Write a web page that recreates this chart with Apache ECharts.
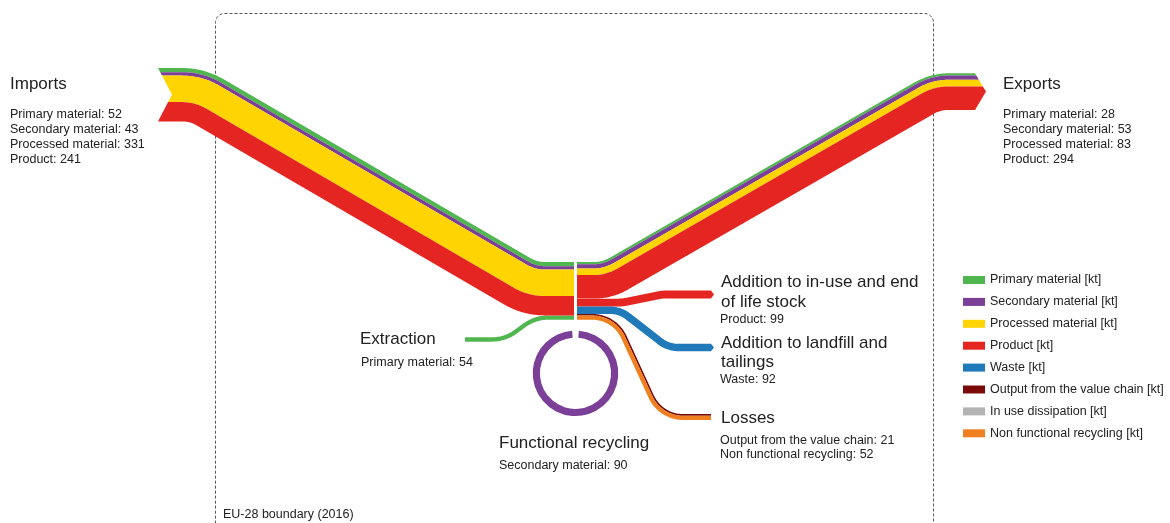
<!DOCTYPE html>
<html><head><meta charset="utf-8">
<script src="https://cdn.jsdelivr.net/npm/echarts@6/dist/echarts.min.js"></script>
<style>html,body{margin:0;padding:0;background:#fff}#c{width:1170px;height:523px}</style>
</head><body><div id="c"></div>
<script>
// ---------------- DATA ----------------
const materialNames = ['Primary material [kt]','Secondary material [kt]','Processed material [kt]','Product [kt]','Waste [kt]','Output from the value chain [kt]','In use dissipation [kt]','Non functional recycling [kt]'];
const materialColors = ['#50b64f','#7b3f98','#ffd400','#e52521','#2079b9','#7a0a0a','#b3b3b3','#f07f1f'];
const importCategories = ['Primary material','Secondary material','Processed material','Product'];
const importValues = [52, 43, 331, 241];
const exportCategories = ['Primary material','Secondary material','Processed material','Product'];
const exportValues = [28, 53, 83, 294];
const extractionCategory = 'Primary material';
const extractionValue = 54;
const recyclingCategory = 'Secondary material';
const recyclingValue = 90;
const stockCategory = 'Product';
const stockValue = 99;
const landfillCategory = 'Waste';
const landfillValue = 92;
const lossCategories = ['Output from the value chain','Non functional recycling'];
const lossValues = [21, 52];

// ---------------- LAYOUT (geometry only) ----------------
const PX_PER_KT = 0.08;
const FONT = '"Liberation Sans", Arial, sans-serif';
const ROUTES = {
  imports:    {pts: [[158,94.7],[197,94.7],[530,288.7],[574,288.7]], r: 55, startCap: 14, endCap: 0},
  exports:    {pts: [[577,280.3],[607.3,280.3],[935.5,91.6],[975,91.6]], r: 50, startCap: 0, endCap: 11},
  extraction: {pts: [[465,339.5],[505,339.5],[535,317.6],[574,317.6]], r: 40, startCap: 0, endCap: 0},
  stock:      {pts: [[577,302.6],[622,302.6],[662,294.5],[711,294.5]], r: 40, startCap: 0, endCap: 3},
  landfill:   {pts: [[577,310.2],[620,310.2],[668,347.5],[711,347.5]], r: 30, startCap: 0, endCap: 3},
  losses:     {pts: [[577,316.8],[614.6,316.8],[660.6,417],[711,417]], r: 35, startCap: 0, endCap: 0}
};
const RING = {cx: 575.5, cy: 373.3, r: 42.8, gapDeg: 4.5};

// ---------------- build bands from data ----------------
const ROUTE_LAYERS = {
  imports: importValues.map((v,i)=>({m:i, v})),
  exports: exportValues.map((v,i)=>({m:i, v})),
  extraction: [{m:0, v:extractionValue}],
  stock: [{m:3, v:stockValue}],
  landfill: [{m:4, v:landfillValue}],
  losses: [{m:5, v:lossValues[0]},{m:7, v:lossValues[1]}]
};
const BANDS = [];
Object.keys(ROUTE_LAYERS).forEach(rk => {
  const layers = ROUTE_LAYERS[rk];
  const total = layers.reduce((s,l)=>s+l.v,0);
  let before = 0;
  layers.forEach(l => { BANDS.push({route: rk, m: l.m, v: l.v, before, total}); before += l.v; });
});
BANDS.push({ring: true, m: 1, v: recyclingValue});

// ---------------- geometry helpers ----------------
function dir(p,q){const dx=q[0]-p[0],dy=q[1]-p[1],l=Math.hypot(dx,dy);return [dx/l,dy/l];}
function sampleRoute(pts, r){
  const out=[{p:pts[0],t:dir(pts[0],pts[1])}];
  for(let i=1;i<pts.length-1;i++){
    const d1=dir(pts[i-1],pts[i]), d2=dir(pts[i],pts[i+1]);
    const cross=d1[0]*d2[1]-d1[1]*d2[0];
    const ang=Math.acos(Math.max(-1,Math.min(1,d1[0]*d2[0]+d1[1]*d2[1])));
    if(ang<1e-4){out.push({p:pts[i],t:d1});continue;}
    const tl=r*Math.tan(ang/2);
    const p1=[pts[i][0]-d1[0]*tl,pts[i][1]-d1[1]*tl];
    const s=cross>0?1:-1;
    const nR=[-d1[1],d1[0]];
    const c=[p1[0]+nR[0]*r*s,p1[1]+nR[1]*r*s];
    const a1=Math.atan2(p1[1]-c[1],p1[0]-c[0]);
    const N=28;
    for(let k=0;k<=N;k++){
      const a=a1+s*ang*k/N;
      out.push({p:[c[0]+r*Math.cos(a),c[1]+r*Math.sin(a)], t: s>0?[-Math.sin(a),Math.cos(a)]:[Math.sin(a),-Math.cos(a)]});
    }
  }
  out.push({p:pts[pts.length-1],t:dir(pts[pts.length-2],pts[pts.length-1])});
  return out;
}
function bandPolygon(samples,a,b,W,startCap,endCap){
  const half=W/2;
  const cap=(depth,d)=>depth*(1-Math.abs(d)/half);
  const off=(s,d,sh)=>[s.p[0]-s.t[1]*d+s.t[0]*sh, s.p[1]+s.t[0]*d+s.t[1]*sh];
  const n=samples.length, pts=[];
  for(let i=0;i<n;i++){const sh=i===0?cap(startCap,a):(i===n-1?cap(endCap,a):0);pts.push(off(samples[i],a,sh));}
  if(a<0&&b>0&&endCap)pts.push(off(samples[n-1],0,endCap));
  for(let i=n-1;i>=0;i--){const sh=i===0?cap(startCap,b):(i===n-1?cap(endCap,b):0);pts.push(off(samples[i],b,sh));}
  if(a<0&&b>0&&startCap)pts.push(off(samples[0],0,startCap));
  return pts;
}

function renderItem(params, api){
  const band = BANDS[api.value(0)];
  const val = api.value(1);
  const color = materialColors[band.m];
  const kt2px = v => api.size([0, v*PX_PER_KT])[1];
  if(band.ring){
    const c = api.coord([RING.cx, RING.cy]);
    const r = api.size([0, RING.r])[1];
    const g = RING.gapDeg*Math.PI/180;
    return {type:'sector', shape:{cx:c[0], cy:c[1], r:r, r0:r-kt2px(val), startAngle:-Math.PI/2+g, endAngle:3*Math.PI/2-g, clockwise:true}, style:{fill:color}};
  }
  const route = ROUTES[band.route];
  const pts = route.pts.map(p=>api.coord(p));
  const samples = sampleRoute(pts, route.r);
  const W = kt2px(band.total);
  const a = kt2px(band.before) - W/2;
  const b = a + kt2px(val);
  return {type:'polygon', shape:{points: bandPolygon(samples,a,b,W,route.startCap,route.endCap)}, style:{fill:color}};
}

// ---------------- texts ----------------
const texts = [];
function T(x,y,text,size){texts.push({type:'text', x, y, silent:true, style:{text, font: size+'px '+FONT, fill:'#222', align:'left', verticalAlign:'middle'}});}
T(10,84,'Imports',17);
importCategories.forEach((c,i)=>T(10,115+i*14.7,c+': '+importValues[i],12.5));
T(1003,84,'Exports',17);
exportCategories.forEach((c,i)=>T(1003,115+i*14.7,c+': '+exportValues[i],12.5));
T(360,339,'Extraction',17);
T(361,363,extractionCategory+': '+extractionValue,12.5);
T(499,443,'Functional recycling',17);
T(499,466,recyclingCategory+': '+recyclingValue,12.5);
T(721,282,'Addition to in-use and end',17);
T(721,302,'of life stock',17);
T(720,319.5,stockCategory+': '+stockValue,12.5);
T(721,343,'Addition to landfill and',17);
T(721,362,'tailings',17);
T(720,380,landfillCategory+': '+landfillValue,12.5);
T(721,418,'Losses',17);
lossCategories.forEach((c,i)=>T(720,441+i*13.7,c+': '+lossValues[i],12.5));
T(223,515,'EU-28 boundary (2016)',12.5);

const boundary = {type:'rect', silent:true, z:-1, shape:{x:215.5, y:13.5, width:718, height:540, r:9}, style:{fill:'none', stroke:'#555', lineWidth:1, lineDash:[3,2]}};

// ---------------- chart ----------------
const chart = echarts.init(document.getElementById('c'), null, {renderer:'canvas'});
const series = materialNames.map((name, mi) => ({
  type:'custom', name, coordinateSystem:'cartesian2d', clip:false, silent:true,
  itemStyle:{color: materialColors[mi]},
  renderItem,
  data: BANDS.map((b,i)=>({b,i})).filter(o=>o.b.m===mi).map(o=>[o.i, o.b.v])
}));
chart.setOption({
  animation:false,
  backgroundColor:'#fff',
  grid:{left:0,right:0,top:0,bottom:0},
  xAxis:{type:'value', min:0, max:1170, show:false},
  yAxis:{type:'value', min:0, max:523, inverse:true, show:false},
  legend:{orient:'vertical', left:963, top:273.5, padding:0, itemWidth:22, itemHeight:8, itemGap:8.9, icon:'rect', selectedMode:false,
    textStyle:{fontSize:12.5, color:'#222', fontFamily:FONT, lineHeight:12}, data: materialNames},
  graphic: [boundary].concat(texts),
  series
});
</script></body></html>
